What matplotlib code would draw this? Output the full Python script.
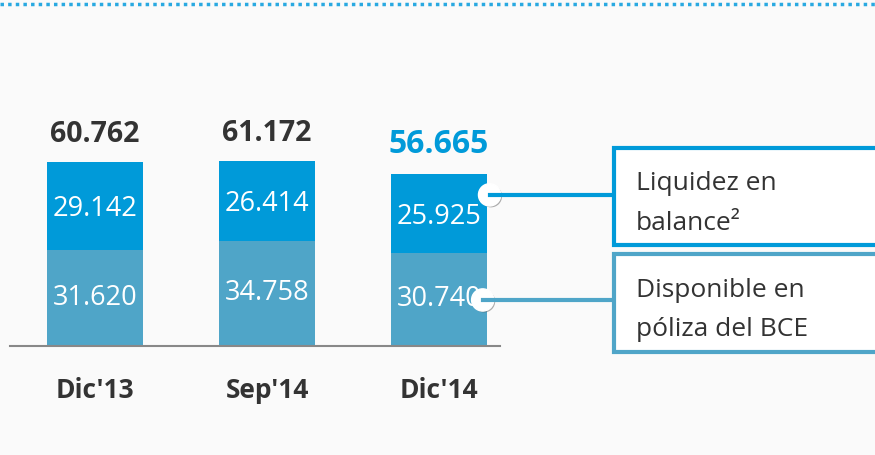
import numpy as np
import matplotlib.pyplot as plt
from matplotlib.patches import Rectangle
from matplotlib.lines import Line2D
import matplotlib.patheffects as pe

plt.rcParams['font.family'] = ['Open Sans', 'DejaVu Sans']

# datos
periodos = ["Dic'13", "Sep'14", "Dic'14"]
poliza_bce = [31620, 34758, 30740]
liquidez_balance = [29142, 26414, 25925]
totales = [60762, 61172, 56665]
etiquetas_total = ["60.762", "61.172", "56.665"]
etiquetas_bce = ["31.620", "34.758", "30.740"]
etiquetas_liq = ["29.142", "26.414", "25.925"]
leyenda = ["Liquidez en\nbalance²", "Disponible en\npóliza del BCE"]

c_top = '#009ad9'
c_bot = '#4fa5c8'
c_txt = '#333333'
bg = '#fafafa'

W, H = 875, 455
fig = plt.figure(figsize=(W / 100, H / 100), dpi=100, facecolor=bg)

# ejes: base en y=346 px, izquierda x=10, derecha x=500
ax = fig.add_axes([10 / W, (H - 346) / H, 490 / W, 212 / H])
ax.set_facecolor('none')
x = np.arange(len(periodos))
ax.set_xlim((10 - 95) / 172, (500 - 95) / 172)
ax.set_ylim(0, 70000)
ancho = 96 / 172

ax.bar(x, poliza_bce, width=ancho, color=c_bot, zorder=2)
ax.bar(x, liquidez_balance, bottom=poliza_bce, width=ancho, color=c_top, zorder=2)

for i in range(len(x)):
    ax.text(x[i], poliza_bce[i] / 2, etiquetas_bce[i], ha='center', va='center',
            color='white', fontsize=19.5, zorder=3)
    ax.text(x[i], poliza_bce[i] + liquidez_balance[i] / 2 - 1000, etiquetas_liq[i],
            ha='center', va='center', color='white', fontsize=19.5, zorder=3)
    ultimo = i == len(x) - 1
    ax.text(x[i], totales[i] + (10000 if ultimo else 9000), etiquetas_total[i],
            ha='center', va='center', color=c_top if ultimo else c_txt,
            fontsize=23 if ultimo else 20.5, fontweight='bold')

for s in ['top', 'right', 'left']:
    ax.spines[s].set_visible(False)
ax.spines['bottom'].set_color('#888888')
ax.spines['bottom'].set_linewidth(1.5)
ax.set_yticks([])
ax.set_xticks(x)
ax.set_xticklabels(periodos, fontsize=19, fontweight='bold', color=c_txt)
ax.tick_params(axis='x', length=0, pad=22)

# marcadores y conectores hacia las cajas
puntos = [(x[-1] + ancho / 2 + 0.015, 49900, c_top), (x[-1] + ancho / 2 - 0.025, 15200, c_bot)]
cajas = [(614, 148, 245), (614, 254, 352)]
inv = fig.transFigure.inverted()
for (px, py, col), (bx, y0, y1), txt in zip(puntos, cajas, leyenda):
    dx, dy = inv.transform(ax.transData.transform((px, py)))
    fig.add_artist(Line2D([dx, bx / W], [dy, dy], color=col, lw=3, zorder=4))
    ax.plot([px], [py], 'o', ms=16, mfc='white', mec='white', zorder=6, clip_on=False,
            path_effects=[pe.SimplePatchShadow(offset=(1, -1), alpha=0.45), pe.Normal()])
    fig.add_artist(Rectangle((bx / W, (H - y1) / H), (W - bx + 5) / W, (y1 - y0) / H,
                             facecolor='white', edgecolor=col, lw=3, zorder=5))
    fig.text(636 / W, (H - (y0 + y1) / 2 - 7) / H, txt, ha='left', va='center',
             fontsize=19, color=c_txt, linespacing=1.75, zorder=6)

# línea punteada superior
fig.add_artist(Line2D([0, 1], [(H - 4) / H] * 2, color='#29a9e1', lw=2.5,
                      linestyle=(0, (1, 1.2)), zorder=5))

fig.savefig('out.png', dpi=100, facecolor=bg)
